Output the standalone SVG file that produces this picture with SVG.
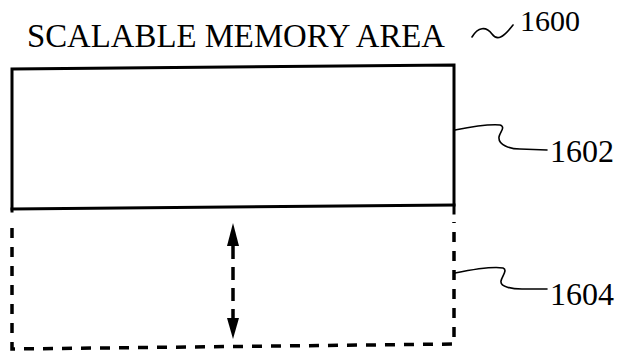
<svg xmlns="http://www.w3.org/2000/svg" width="620" height="352" viewBox="0 0 620 352">
  <style>
    .label { font-family: "Liberation Serif", "Times New Roman", serif; fill: #000; }
    .solid { fill: none; stroke: #000; stroke-width: 3; stroke-linecap: square; }
    .dash { fill: none; stroke: #000; stroke-width: 3.5; stroke-dasharray: 10 9; }
    .leader { fill: none; stroke: #000; stroke-width: 1.6; stroke-linecap: round; }
  </style>

  <!-- title and reference numeral -->
  <g id="title">
    <text class="label" x="27" y="47" font-size="33" textLength="418" lengthAdjust="spacingAndGlyphs">SCALABLE MEMORY AREA</text>
    <path class="leader" d="M472,37 C478,27 486,26 492,34 C497,41 503,38 513,25"/>
    <text class="label" x="520" y="31" font-size="30">1600</text>
  </g>

  <!-- fixed part of the memory area -->
  <g id="fixed-area">
    <path class="solid" d="M12,211 L12,69 L454,65 L454,213"/>
    <path class="solid" d="M12,209 L454,205"/>
  </g>

  <!-- scalable part, drawn dashed -->
  <g id="scalable-area">
    <path class="dash" d="M12,228 L12,349 L454,344 L454,222"/>
  </g>

  <g id="connectors">
    <!-- size adjustment arrow -->
    <line class="dash" x1="233" y1="246" x2="233" y2="318" stroke-width="4" style="stroke-dasharray:13 8"/>
    <path d="M227,246 L233,223 L239,246 Z" fill="#000"/>
    <path d="M227,318 L233,339 L239,318 Z" fill="#000"/>
    <!-- leaders to numerals -->
    <path class="leader" d="M455,130 C470,127 488,124 500,125 C506,127 500,132 499,137 C498,145 510,149 520,149 L547,150"/>
    <path class="leader" d="M455,273 C470,270 490,266 503,268 C508,270 502,276 501,281 C500,287 512,289 522,289 L547,289"/>
  </g>

  <g id="label-1602">
    <text class="label" x="550" y="162" font-size="32">1602</text>
  </g>
  <g id="label-1604">
    <text class="label" x="550" y="305" font-size="32">1604</text>
  </g>
</svg>
